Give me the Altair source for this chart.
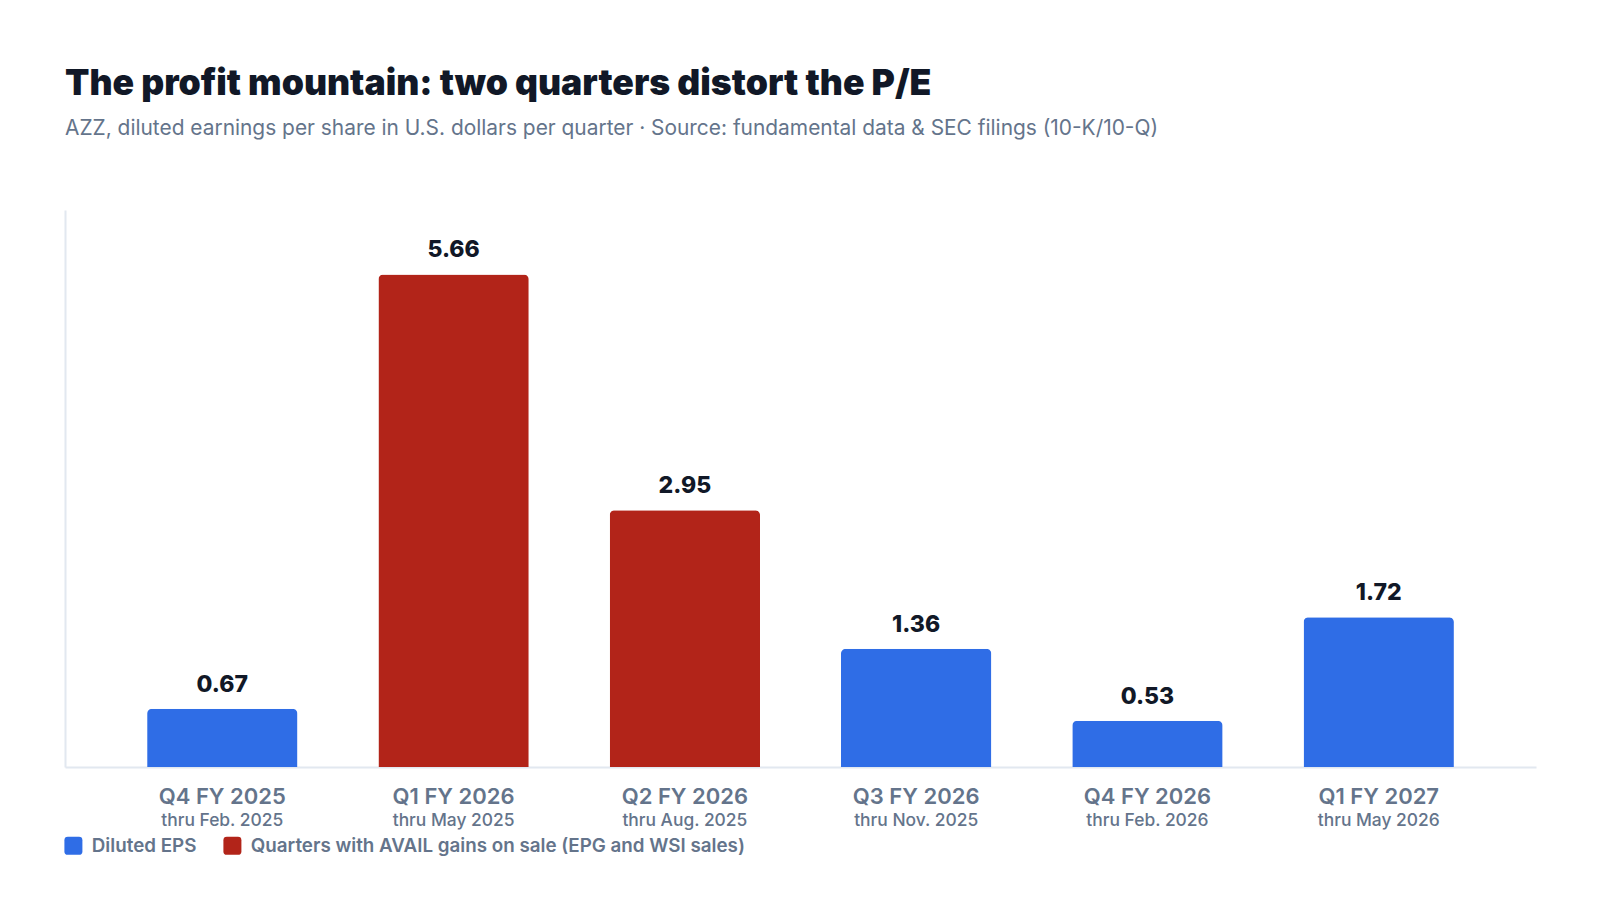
import altair as alt
import pandas as pd

quarters = ["Q4 FY 2025", "Q1 FY 2026", "Q2 FY 2026", "Q3 FY 2026", "Q4 FY 2026", "Q1 FY 2027"]
periods = ["thru Feb. 2025", "thru May 2025", "thru Aug. 2025", "thru Nov. 2025", "thru Feb. 2026", "thru May 2026"]
eps = [0.67, 5.66, 2.95, 1.36, 0.53, 1.72]
series = ["Diluted EPS",
          "Quarters with AVAIL gains on sale (EPG and WSI sales)",
          "Quarters with AVAIL gains on sale (EPG and WSI sales)",
          "Diluted EPS", "Diluted EPS", "Diluted EPS"]
series_domain = ["Diluted EPS", "Quarters with AVAIL gains on sale (EPG and WSI sales)"]
series_colors = ["#2f6de6", "#b22419"]

df = pd.DataFrame({"quarter": quarters, "period": periods, "eps": eps, "series": series,
                   "label": [f"{v:.2f}" for v in eps]})

W, H = 1471, 557
FONT = "Inter"

rounded_square = ("M-1,-0.62 Q-1,-1 -0.62,-1 L0.62,-1 Q1,-1 1,-0.62 L1,0.62 "
                  "Q1,1 0.62,1 L-0.62,1 Q-1,1 -1,0.62 Z")

x = alt.X("quarter:N", sort=quarters,
          scale=alt.Scale(paddingInner=0.35, paddingOuter=0.355),
          axis=alt.Axis(title=None, labels=False, ticks=False, domain=True,
                        domainColor="#e2e8f0", domainWidth=2, grid=False))

base = alt.Chart(df)

bars = base.mark_bar(cornerRadiusTopLeft=5, cornerRadiusTopRight=5).encode(
    x=x,
    y=alt.Y("eps:Q", scale=alt.Scale(domain=[0, 6.4], nice=False),
            axis=alt.Axis(title=None, labels=False, ticks=False, grid=False,
                          domain=True, domainColor="#e2e8f0", domainWidth=2)),
    color=alt.Color("series:N",
                    scale=alt.Scale(domain=series_domain, range=series_colors),
                    legend=alt.Legend(title=None, orient="none", direction="horizontal",
                                      legendX=-1, legendY=626,
                                      symbolType=rounded_square, symbolSize=324,
                                      symbolStrokeWidth=0, symbolOpacity=1,
                                      labelFont=FONT, labelFontSize=18.8, labelFontWeight=600,
                                      labelColor="#64748b", labelOffset=9,
                                      columnPadding=26, labelLimit=800)),
)

values = base.mark_text(font=FONT, fontSize=23, fontWeight=800, color="#111827",
                        baseline="alphabetic", dy=-17).encode(
    x=alt.X("quarter:N", sort=quarters),
    y="eps:Q",
    text="label:N",
)

lab1 = base.mark_text(font=FONT, fontSize=22, fontWeight=600, color="#64748b",
                      baseline="alphabetic").encode(
    x=alt.X("quarter:N", sort=quarters),
    y=alt.value(H + 37),
    text="quarter:N",
)

lab2 = base.mark_text(font=FONT, fontSize=17.4, fontWeight=500, color="#64748b",
                      baseline="alphabetic").encode(
    x=alt.X("quarter:N", sort=quarters),
    y=alt.value(H + 59),
    text="period:N",
)

chart = alt.layer(bars, values, lab1, lab2).properties(
    width=W, height=H,
    background="white",
    title=alt.TitleParams(
        text="The profit mountain: two quarters distort the P/E",
        subtitle="AZZ, diluted earnings per share in U.S. dollars per quarter · Source: fundamental data & SEC filings (10-K/10-Q)",
        anchor="start", frame="group", font=FONT, fontSize=35.6, fontWeight=900,
        color="#111827", subtitleFont=FONT, subtitleFontSize=20.9,
        subtitleColor="#64748b", subtitleFontWeight=400, subtitlePadding=16, offset=71),
    padding={"left": 57, "top": 202, "right": 40, "bottom": 110},
    autosize=alt.AutoSizeParams(type="none"),
).configure_view(strokeWidth=0, stroke="transparent")

chart.save("out.html", embed_options={"renderer": "svg", "actions": False})
